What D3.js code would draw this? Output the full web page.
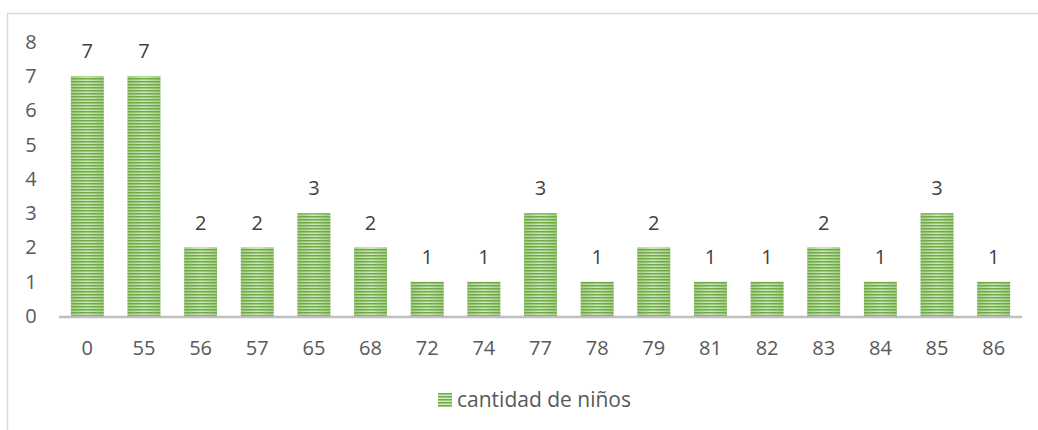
<!DOCTYPE html>
<html>
<head>
<meta charset="utf-8">
<script src="https://cdn.jsdelivr.net/npm/d3@7"></script>
<style>
  html, body { margin: 0; padding: 0; background: #fff; }
  svg { display: block; font-family: "Open Sans", "Noto Sans", sans-serif; }
</style>
</head>
<body>
<svg id="chart" width="1038" height="430"></svg>
<script>
// data
const categories = ["0","55","56","57","65","68","72","74","77","78","79","81","82","83","84","85","86"];
const counts     = [7, 7, 2, 2, 3, 2, 1, 1, 3, 1, 2, 1, 1, 2, 1, 3, 1];
const yTicks     = [0, 1, 2, 3, 4, 5, 6, 7, 8];
const seriesName = "cantidad de niños";

const W = 1038, H = 430;
const M = {t: 42, r: 16, b: 114, l: 59};
const innerW = W - M.l - M.r, innerH = H - M.t - M.b;
const txt = "#595959";
const fs = "20px";

const svg = d3.select("#chart");

// striped fill
const defs = svg.append("defs");
const pat = defs.append("pattern")
  .attr("id", "stripes")
  .attr("patternUnits", "userSpaceOnUse")
  .attr("width", 4).attr("height", 3);
pat.append("rect").attr("width", 4).attr("height", 3).attr("fill", "#d2e8c2");
pat.append("rect").attr("width", 4).attr("height", 1.5).attr("fill", "#6eab45");

const shade = defs.append("linearGradient").attr("id", "shade");
shade.append("stop").attr("offset", "0%").attr("stop-color", "#70ad47").attr("stop-opacity", 0.45);
shade.append("stop").attr("offset", "50%").attr("stop-color", "#70ad47").attr("stop-opacity", 0.0);
shade.append("stop").attr("offset", "100%").attr("stop-color", "#70ad47").attr("stop-opacity", 0.45);

// chart frame (top + left only visible)
svg.append("line").attr("x1", 7).attr("x2", W).attr("y1", 13.5).attr("y2", 13.5)
  .attr("stroke", "#d9d9d9").attr("stroke-width", 1.5);
svg.append("line").attr("x1", 7.5).attr("x2", 7.5).attr("y1", 13).attr("y2", H)
  .attr("stroke", "#d9d9d9").attr("stroke-width", 1.5);

const g = svg.append("g").attr("transform", `translate(${M.l},${M.t})`);

const x = d3.scaleBand().domain(categories).range([0, innerW]).paddingInner(0.42).paddingOuter(0.21);
const y = d3.scaleLinear().domain([0, 8]).range([innerH, 0]);

const bars = categories.map((c, i) => ({c, v: counts[i]}));

// y axis labels
const yAxis = g.append("g").call(d3.axisLeft(y).tickValues(yTicks).tickSize(0).tickPadding(0));
yAxis.select(".domain").remove();
yAxis.selectAll("text")
  .attr("x", -28).attr("text-anchor", "middle")
  .attr("fill", txt).style("font-size", fs).style("font-family", "'Open Sans', sans-serif");

// bars
g.append("g").selectAll("rect")
  .data(bars)
  .join("rect")
    .attr("x", d => x(d.c))
    .attr("y", d => y(d.v))
    .attr("width", x.bandwidth())
    .attr("height", d => innerH - y(d.v))
    .attr("fill", "url(#stripes)");
g.append("g").selectAll("rect")
  .data(bars)
  .join("rect")
    .attr("x", d => x(d.c))
    .attr("y", d => y(d.v))
    .attr("width", x.bandwidth())
    .attr("height", d => innerH - y(d.v))
    .attr("fill", "url(#shade)");

// value labels
g.append("g").selectAll("text")
  .data(bars)
  .join("text")
    .attr("x", d => x(d.c) + x.bandwidth() / 2)
    .attr("y", d => y(d.v) - 25)
    .attr("dy", "0.35em")
    .attr("text-anchor", "middle")
    .attr("fill", "#404040")
    .style("font-size", fs)
    .text(d => d.v);

// x axis
const xAxis = g.append("g").attr("transform", `translate(0,${innerH})`)
  .call(d3.axisBottom(x).tickSize(0).tickPadding(0));
xAxis.select(".domain").remove();
xAxis.selectAll("text")
  .attr("y", 32).attr("dy", "0.35em")
  .attr("fill", txt).style("font-size", fs).style("font-family", "'Open Sans', sans-serif");
g.append("line").attr("x1", 0).attr("x2", innerW).attr("y1", innerH + 1).attr("y2", innerH + 1)
  .attr("stroke", "#bfbfbf").attr("stroke-width", 2.5);

// legend
const lg = svg.append("g").attr("transform", "translate(438,393)");
lg.append("rect").attr("width", 14).attr("height", 14).attr("fill", "url(#stripes)");
lg.append("text").attr("x", 19).attr("y", 7).attr("dy", "0.35em")
  .attr("fill", txt).style("font-size", "21px").text(seriesName);
</script>
</body>
</html>
